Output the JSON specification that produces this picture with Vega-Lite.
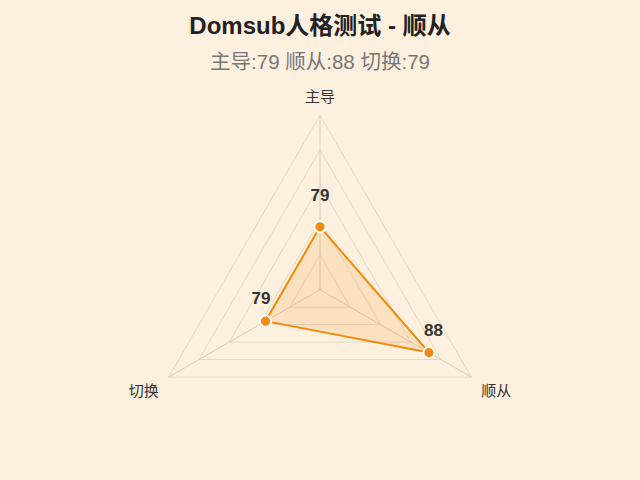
{
  "$schema": "https://vega.github.io/schema/vega-lite/v6.json",
  "width": 640,
  "height": 480,
  "autosize": "none",
  "padding": 0,
  "background": "#fdf0df",
  "view": {"stroke": null},
  "config": {"font": "Liberation Sans, Noto Sans CJK SC, sans-serif"},
  "title": {
    "text": "Domsub人格测试 - 顺从",
    "subtitle": "主导:79 顺从:88 切换:79",
    "fontSize": 24,
    "fontWeight": "bold",
    "color": "#222222",
    "subtitleFontSize": 20.5,
    "subtitleColor": "#777777",
    "subtitlePadding": 14,
    "anchor": "middle",
    "offset": -73
  },
  "datasets": {
    "scores": [
      {"dim": "主导", "score": 79, "k": 0},
      {"dim": "顺从", "score": 88, "k": 1},
      {"dim": "切换", "score": 79, "k": 2}
    ],
    "rings": [
      {"level": 75, "k": 0}, {"level": 75, "k": 1}, {"level": 75, "k": 2},
      {"level": 80, "k": 0}, {"level": 80, "k": 1}, {"level": 80, "k": 2},
      {"level": 85, "k": 0}, {"level": 85, "k": 1}, {"level": 85, "k": 2},
      {"level": 90, "k": 0}, {"level": 90, "k": 1}, {"level": 90, "k": 2},
      {"level": 95, "k": 0}, {"level": 95, "k": 1}, {"level": 95, "k": 2}
    ]
  },
  "layer": [
    {
      "data": {"name": "rings"},
      "transform": [
        {"calculate": "datum.k * 2 * PI / 3", "as": "a"},
        {"calculate": "(datum.level - 70) / 25", "as": "r"},
        {"calculate": "datum.r * sin(datum.a)", "as": "x"},
        {"calculate": "datum.r * cos(datum.a)", "as": "y"}
      ],
      "mark": {"type": "line", "interpolate": "linear-closed", "stroke": "#e2d8c8", "strokeWidth": 1},
      "encoding": {
        "x": {"field": "x", "type": "quantitative", "scale": {"domain": [-1.8317, 1.8317], "nice": false, "zero": false}, "axis": null},
        "y": {"field": "y", "type": "quantitative", "scale": {"domain": [-1.0893, 1.6583], "nice": false, "zero": false}, "axis": null},
        "detail": {"field": "level", "type": "nominal"},
        "order": {"field": "k", "type": "quantitative"}
      }
    },
    {
      "data": {"name": "scores"},
      "transform": [
        {"calculate": "datum.k * 2 * PI / 3", "as": "a"},
        {"calculate": "0", "as": "cx"},
        {"calculate": "0", "as": "cy"},
        {"calculate": "sin(datum.a)", "as": "ox"},
        {"calculate": "cos(datum.a)", "as": "oy"}
      ],
      "mark": {"type": "rule", "stroke": "#d6ccbc", "strokeWidth": 1},
      "encoding": {
        "x": {"field": "cx", "type": "quantitative", "scale": {"domain": [-1.8317, 1.8317], "nice": false, "zero": false}, "axis": null},
        "y": {"field": "cy", "type": "quantitative", "scale": {"domain": [-1.0893, 1.6583], "nice": false, "zero": false}, "axis": null},
        "x2": {"field": "ox"},
        "y2": {"field": "oy"}
      }
    },
    {
      "data": {"name": "scores"},
      "transform": [
        {"calculate": "datum.k * 2 * PI / 3", "as": "a"},
        {"calculate": "(datum.score - 70) / 25", "as": "r"},
        {"calculate": "datum.r * sin(datum.a)", "as": "x"},
        {"calculate": "datum.r * cos(datum.a)", "as": "y"},
        {"calculate": "datum.x + sin(datum.a) * 0.03", "as": "lx"},
        {"calculate": "datum.y + (datum.k == 0 ? 0.05 : 0)", "as": "ly"},
        {"calculate": "(datum.k == 0 ? 1.103 : 1.165) * sin(datum.a)", "as": "nx"},
        {"calculate": "(datum.k == 0 ? 1.103 : 1.165) * cos(datum.a)", "as": "ny"}
      ],
      "layer": [
        {
          "mark": {"type": "line", "interpolate": "linear-closed", "stroke": "#f28b0c", "strokeWidth": 2, "fill": "#f28b0c", "fillOpacity": 0.15},
          "encoding": {
            "x": {"field": "x", "type": "quantitative", "scale": {"domain": [-1.8317, 1.8317], "nice": false, "zero": false}, "axis": null},
            "y": {"field": "y", "type": "quantitative", "scale": {"domain": [-1.0893, 1.6583], "nice": false, "zero": false}, "axis": null},
            "order": {"field": "k", "type": "quantitative"}
          }
        },
        {
          "mark": {"type": "point", "shape": "circle", "filled": true, "size": 125, "fill": "#f28b0c", "fillOpacity": 1, "stroke": "#ffffff", "strokeWidth": 2, "strokeOpacity": 1},
          "encoding": {
            "x": {"field": "x", "type": "quantitative", "scale": {"domain": [-1.8317, 1.8317], "nice": false, "zero": false}, "axis": null},
            "y": {"field": "y", "type": "quantitative", "scale": {"domain": [-1.0893, 1.6583], "nice": false, "zero": false}, "axis": null}
          }
        },
        {
          "mark": {"type": "text", "fontSize": 17, "fontWeight": "bold", "color": "#333333", "baseline": "middle", "dy": -22},
          "encoding": {
            "x": {"field": "lx", "type": "quantitative", "scale": {"domain": [-1.8317, 1.8317], "nice": false, "zero": false}, "axis": null},
            "y": {"field": "ly", "type": "quantitative", "scale": {"domain": [-1.0893, 1.6583], "nice": false, "zero": false}, "axis": null},
            "text": {"field": "score", "type": "quantitative"}
          }
        },
        {
          "mark": {"type": "text", "fontSize": 15, "color": "#333333", "baseline": "middle"},
          "encoding": {
            "x": {"field": "nx", "type": "quantitative", "scale": {"domain": [-1.8317, 1.8317], "nice": false, "zero": false}, "axis": null},
            "y": {"field": "ny", "type": "quantitative", "scale": {"domain": [-1.0893, 1.6583], "nice": false, "zero": false}, "axis": null},
            "text": {"field": "dim", "type": "nominal"}
          }
        }
      ]
    }
  ]
}
